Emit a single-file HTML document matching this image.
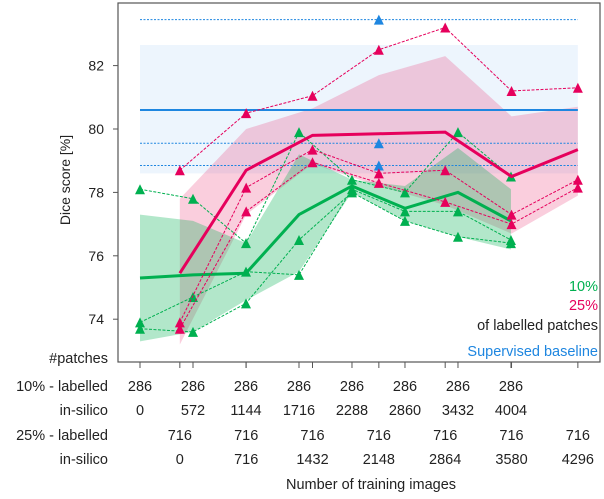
<!DOCTYPE html>
<html><head><meta charset="utf-8"><style>
body{margin:0;background:#fff;}
svg text{font-family:"Liberation Sans",sans-serif;}
</style></head><body>
<svg id="c" width="604" height="494" viewBox="0 0 604 494"></svg>
<script>
const gN=[286,858,1430,2002,2574,3146,3718,4290];
const gA=[78.1,77.8,76.4,79.9,78.4,78.0,79.9,78.5];
const gB=[73.9,74.7,75.5,75.4,78.1,77.4,77.4,76.5];
const gC=[73.7,73.6,74.5,76.5,78.0,77.1,76.6,76.4];
const gMean=[75.3,75.4,75.45,77.3,78.2,77.5,78.0,77.1];
const gUp=[77.3,77.1,76.4,79.2,78.4,78.2,79.4,78.1];
const gLo=[73.3,73.6,74.6,75.5,78.0,77.1,76.6,76.2];
const pN=[716,1432,2148,2864,3580,4296,5012];
const pA=[78.7,80.5,81.05,82.5,83.2,81.2,81.3];
const pB=[73.9,78.15,79.35,78.6,78.7,77.3,78.4];
const pC=[73.7,77.4,78.95,78.3,77.7,77.0,78.15];
const pMean=[75.45,78.7,79.8,79.85,79.9,78.5,79.35];
const pUp=[77.8,80.0,80.65,81.7,82.3,80.4,80.7];
const pLo=[73.2,77.3,78.9,78.2,77.6,76.7,77.9];
const baseMean=80.6, baseLo=78.6, baseHi=82.65;
const baseRuns=[83.45,79.55,78.85];
const yTicks=[74,76,78,80,82];
const gLab=["286","286","286","286","286","286","286","286"];
const gSil=["0","572","1144","1716","2288","2860","3432","4004"];
const pLab=["716","716","716","716","716","716","716"];
const pSil=["0","716","1432","2148","2864","3580","4296"];

const NS="http://www.w3.org/2000/svg";
const svg=document.getElementById('c');
const X=n=>113.5+n*0.09265;
const Y=v=>129-(v-80)*31.7;
function mk(t,a,parent){const e=document.createElementNS(NS,t);for(const k in a)e.setAttribute(k,a[k]);(parent||svg).appendChild(e);return e;}
const G='#00b050',P='#e6005c',B='#1e86e0';

let e=mk('rect',{x:X(286),y:Y(baseHi),width:X(5012)-X(286),height:Y(baseLo)-Y(baseHi),fill:'#eaf3fd',opacity:0.85});

function band(xs,up,lo,fill,name){
 let d=xs.map((n,i)=>(i?'L':'M')+X(n)+','+Y(up[i])).join('')+xs.slice().reverse().map((n,j)=>'L'+X(n)+','+Y(lo[xs.length-1-j])).join('')+'Z';
 const p=mk('path',{d:d,fill:fill});
 
}
band(pN,pUp,pLo,'rgba(235,60,120,0.25)','band-25pct');
band(gN,gUp,gLo,'rgba(0,176,80,0.3)','band-10pct');
e=mk('line',{x1:X(286),x2:X(5012),y1:Y(baseMean),y2:Y(baseMean),stroke:B,'stroke-width':2});

baseRuns.forEach(v=>{const l=mk('line',{x1:X(286),x2:X(5012),y1:Y(v),y2:Y(v),stroke:B,'stroke-width':1,'stroke-dasharray':'2,1.5'});
 
 const t=mk('path',{d:tri(X(2864),Y(v)),fill:B});
 });
function tri(x,y){return `M${x-5},${y+5}L${x+5},${y+5}L${x},${y-5}Z`;}
function series(xs,vs,col,name){
 const pl=mk('polyline',{points:xs.map((n,i)=>X(n)+','+Y(vs[i])).join(' '),fill:'none',stroke:col,'stroke-width':1,'stroke-dasharray':'3,1.5'});
 
 xs.forEach((n,i)=>{const t=mk('path',{d:tri(X(n),Y(vs[i])),fill:col});
  });
}
function meanLine(xs,vs,col,name){const pl=mk('polyline',{points:xs.map((n,i)=>X(n)+','+Y(vs[i])).join(' '),fill:'none',stroke:col,'stroke-width':3});
 }
series(gN,gA,G,'run-10pct-a');series(gN,gB,G,'run-10pct-b');series(gN,gC,G,'run-10pct-c');
meanLine(gN,gMean,G,'mean-10pct');
series(pN,pA,P,'run-25pct-a');series(pN,pB,P,'run-25pct-b');series(pN,pC,P,'run-25pct-c');
meanLine(pN,pMean,P,'mean-25pct');
e=mk('rect',{x:118,y:3,width:482,height:359,fill:'none',stroke:'#555','stroke-width':1.2});

yTicks.forEach(v=>{const t=mk('text',{x:104,y:Y(v)+5,'text-anchor':'end','font-size':14,fill:'#222'});t.textContent=v;
 
 mk('line',{x1:113,x2:118,y1:Y(v),y2:Y(v),stroke:'#555'});});
e=mk('text',{x:70,y:180,'text-anchor':'middle','font-size':14,fill:'#222',transform:'rotate(-90 70 180)'});e.textContent='Dice score [%]';

gN.concat(pN).forEach(n=>mk('line',{x1:X(n),x2:X(n),y1:362,y2:368,stroke:'#555'}));
[['10%',G,291],['25%',P,310],['of labelled patches','#222',330],['Supervised baseline',B,356]].forEach(([s,c,y])=>{
 const t=mk('text',{x:598,y:y,'text-anchor':'end','font-size':14.5,fill:c});t.textContent=s;
 });
function rowLabel(s,y){const t=mk('text',{x:108,y:y,'text-anchor':'end','font-size':14.5,fill:'#222'});t.textContent=s;
 }
rowLabel('#patches',363);rowLabel('10% - labelled',391);rowLabel('in-silico',415);rowLabel('25% - labelled',440);rowLabel('in-silico',464);
function row(xs,labs,y){xs.forEach((n,i)=>{const t=mk('text',{x:X(n),y:y,'text-anchor':'middle','font-size':14.5,fill:'#222'});t.textContent=labs[i];
 });}
row(gN,gLab,391);row(gN,gSil,415);row(pN,pLab,440);row(pN,pSil,464);
e=mk('text',{x:371,y:489,'text-anchor':'middle','font-size':14.5,fill:'#222'});e.textContent='Number of training images';

</script>
</body></html>
